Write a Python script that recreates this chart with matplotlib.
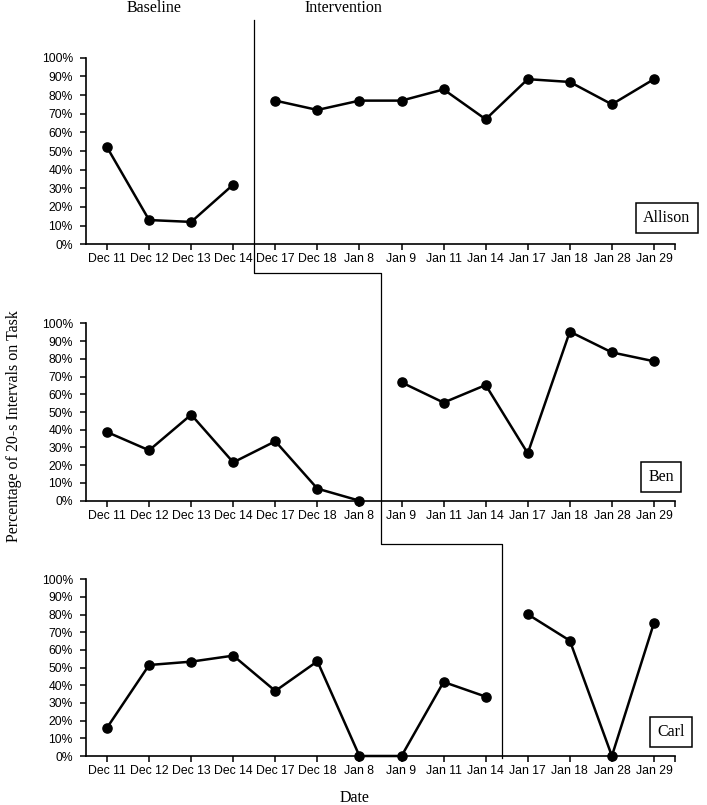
import numpy as np
import matplotlib
matplotlib.use("Agg")
import matplotlib.pyplot as plt
from matplotlib.lines import Line2D
from matplotlib.ticker import FixedLocator, PercentFormatter

dates = ["Dec 11", "Dec 12", "Dec 13", "Dec 14", "Dec 17", "Dec 18", "Jan 8",
         "Jan 9", "Jan 11", "Jan 14", "Jan 17", "Jan 18", "Jan 28", "Jan 29"]

allison = [52, 13, 12, 32, 77, 72, 77, 77, 83, 67, 88.5, 87, 75, 88.5]
ben = [38.7, 28.4, 48.5, 21.6, 33.5, 6.8, 0, 66.7, 55.3, 65.2, 26.7, 95.3, 83.6, 78.6]
carl = [16, 51.5, 53.4, 56.8, 36.8, 53.6, 0, 0, 41.9, 33.6, 80.2, 65.3, 0, 75.3]

names = ["Allison", "Ben", "Carl"]
# index of first intervention session for each student
phase_start = [4, 7, 10]

sans = "Liberation Sans"
serif = "Liberation Serif"

fig = plt.figure(figsize=(7.07, 8.05), dpi=100)
W, H = 707, 805

# axes boxes in pixels: left, right, top, bottom
boxes = [(86, 675, 57.7, 244.3), (86, 675, 323.3, 500.7), (86, 675, 579.3, 756)]
label_pos = [(0.986, 0.141), (0.977, 0.134), (0.993, 0.136)]

axes = []
x = np.arange(len(dates))
for k, (vals, name) in enumerate(zip([allison, ben, carl], names)):
    l, r, t, b = boxes[k]
    ax = fig.add_axes([l / W, 1 - b / H, (r - l) / W, (b - t) / H])
    v = np.array(vals, dtype=float)
    s = phase_start[k]
    for seg in (slice(0, s), slice(s, len(dates))):
        ax.plot(x[seg], v[seg], color="black", lw=1.8, marker="o", ms=6.6,
                clip_on=False, zorder=3)
    ax.set_xlim(-0.5, len(dates) - 0.5)
    ax.set_ylim(0, 100)
    ax.set_yticks(np.arange(0, 101, 10))
    ax.yaxis.set_major_formatter(PercentFormatter(decimals=0))
    ax.set_xticks(x)
    ax.set_xticklabels(dates)
    ax.xaxis.set_minor_locator(FixedLocator([len(dates) - 0.5]))
    for sp in ["top", "right"]:
        ax.spines[sp].set_visible(False)
    for sp in ["left", "bottom"]:
        ax.spines[sp].set_linewidth(1.2)
    ax.tick_params(axis="x", which="both", length=4, width=1.1, pad=2.5,
                   labelsize=8.8)
    ax.tick_params(axis="y", length=4, width=1.1, pad=5.5, labelsize=8.7)
    for lab in ax.get_xticklabels() + ax.get_yticklabels():
        lab.set_fontfamily(sans)
    ax.text(label_pos[k][0], label_pos[k][1], name, transform=ax.transAxes,
            ha="center", va="center", fontsize=11.5, family=serif,
            bbox=dict(boxstyle="square,pad=0.45", fc="white", ec="black", lw=1.1))
    axes.append(ax)

# phase change line (stepped), positions between sessions
breaks = [3.5, 6.5, 9.38]
levels_px = [20, 273, 544, 758]
xs = []
for ax, xb in zip(axes, breaks):
    px = ax.transData.transform((xb, 0))[0]
    xs.append(px / W)
ys = [1 - p / H for p in levels_px]
px_pts = [(xs[0], ys[0]), (xs[0], ys[1]), (xs[1], ys[1]), (xs[1], ys[2]),
          (xs[2], ys[2]), (xs[2], ys[3])]
fig.add_artist(Line2D([p[0] for p in px_pts], [p[1] for p in px_pts],
                      transform=fig.transFigure, color="black", lw=0.9))

fig.text(154 / W, 1 - 7.5 / H, "Baseline", ha="center", va="center",
         fontsize=11.5, family=serif)
fig.text(343.5 / W, 1 - 7.5 / H, "Intervention", ha="center", va="center",
         fontsize=11.5, family=serif)
fig.text(355 / W, 1 - 798 / H, "Date", ha="center", va="center",
         fontsize=11.5, family=serif)
fig.text(14 / W, 1 - 426 / H, "Percentage of 20-s Intervals on Task",
         ha="center", va="center", rotation=90, fontsize=11.5, family=serif)

fig.savefig("out.png", dpi=100)
